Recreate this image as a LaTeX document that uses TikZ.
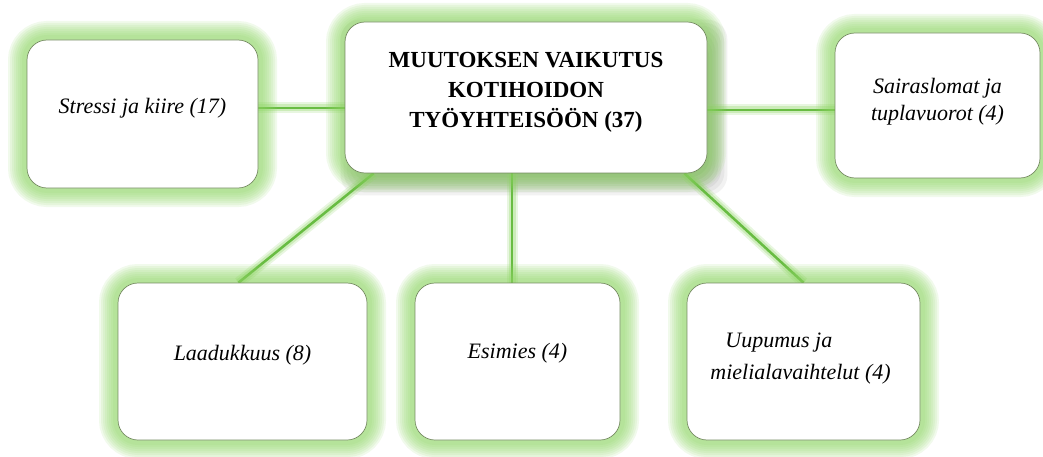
\documentclass[tikz,border=0pt]{standalone}
\usepackage{fontspec}
\setmainfont{Liberation Serif}
\usetikzlibrary{backgrounds}
\definecolor{glowc}{RGB}{140,212,98}
\definecolor{linec}{RGB}{104,188,66}
\definecolor{edgec}{RGB}{118,140,98}
\tikzset{
  halo/.style={
    preaction={draw=glowc, line width=38pt, draw opacity=.12},
    preaction={draw=glowc, line width=34pt, draw opacity=.12},
    preaction={draw=glowc, line width=30pt, draw opacity=.12},
    preaction={draw=glowc, line width=26pt, draw opacity=.12},
    preaction={draw=glowc, line width=22pt, draw opacity=.12},
    preaction={draw=glowc, line width=18pt, draw opacity=.12},
    preaction={draw=glowc, line width=14pt, draw opacity=.12},
    preaction={draw=glowc, line width=10pt, draw opacity=.12}},
  card/.style={halo, draw=edgec, line width=.7pt, fill=white,
    rounded corners=20pt, inner sep=0pt},
  txt/.style={font=\fontsize{22}{27}\selectfont\itshape, align=center, inner sep=0pt},
  head/.style={font=\fontsize{23}{30}\selectfont\bfseries, align=center, inner sep=0pt},
  link/.style={draw=linec, line width=2.5pt,
    preaction={draw=glowc, line width=11pt, draw opacity=.2},
    preaction={draw=glowc, line width=7pt, draw opacity=.3}}
}
\begin{document}
\begin{tikzpicture}[x=1pt, y=-1pt]
\useasboundingbox (0,0) rectangle (1043,457);

% boxes
\node[card, minimum width=231pt, minimum height=148pt] (stressi) at (142.5,114) {};
\node[card, minimum width=362pt, minimum height=151pt] (center) at (526,97.5) {};
\node[card, minimum width=205pt, minimum height=145pt] (sair) at (937.5,105.5) {};
\node[card, minimum width=249pt, minimum height=157pt] (laad) at (242.5,361.5) {};
\node[card, minimum width=205pt, minimum height=157pt] (esim) at (517.5,361.5) {};
\node[card, minimum width=233pt, minimum height=157pt] (uup) at (803.5,361.5) {};

% texts
\node[head] (center-t) at ([yshift=5pt]center.center)
  {MUUTOKSEN VAIKUTUS\\KOTIHOIDON\\TYÖYHTEISÖÖN (37)};
\node[txt] (stressi-t) at ([yshift=6pt]stressi.center) {Stressi ja kiire (17)};
\node[txt] (sair-t) at ([yshift=4pt]sair.center) {Sairaslomat ja\\tuplavuorot (4)};
\node[txt] (laad-t) at ([yshift=6pt]laad.center) {Laadukkuus (8)};
\node[txt] (esim-t) at ([yshift=8pt]esim.center) {Esimies (4)};
\node[txt, font=\fontsize{22}{32}\selectfont\itshape, align=left] (uup-t)
  at ([xshift=-3pt, yshift=3pt]uup.center) {\hspace{15pt}Uupumus ja\\mielialavaihtelut (4)};

\begin{scope}[on background layer]
  % soft drop shadow under the central box
  \foreach \e in {12,9,...,-9}
    \fill[black, opacity=.05, rounded corners=20pt]
      ([shift={(8-\e,10-\e)}]center.north west) rectangle ([shift={(8+\e,10+\e)}]center.south east);
  % connectors
  \draw[link] ([yshift=6pt]stressi.east) -- ([yshift=-10.5pt]center.west);
  \draw[link] ([yshift=-12.5pt]center.east) -- ([yshift=-4.5pt]sair.west);
  \draw[link] ([xshift=29pt]center.south west) -- ([xshift=-4pt]laad.north);
  \draw[link] ([xshift=-14pt]center.south) -- ([xshift=-5.5pt]esim.north);
  \draw[link] ([xshift=-23pt]center.south east) -- (uup.north);
\end{scope}
\end{tikzpicture}
\end{document}
